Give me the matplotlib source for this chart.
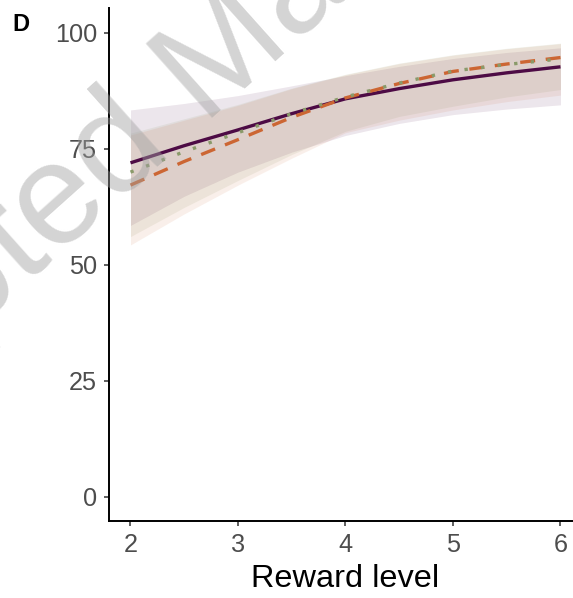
import numpy as np
import matplotlib.pyplot as plt

plt.rcParams['font.family'] = ['Liberation Sans', 'DejaVu Sans']

# reward levels and estimated percentages
reward = [2, 2.5, 3, 3.5, 4, 4.5, 5, 5.5, 6]

purple_fit = [72.0, 75.7, 79.1, 82.6, 85.8, 88.0, 89.9, 91.4, 92.7]
purple_lo = [58.5, 64.8, 70.0, 74.3, 77.9, 80.5, 82.4, 83.6, 84.5]
purple_hi = [83.4, 84.8, 86.5, 88.6, 90.8, 92.8, 94.5, 95.8, 96.8]

orange_fit = [67.2, 72.3, 77.0, 81.8, 86.0, 89.1, 91.7, 93.3, 94.7]
orange_lo = [54.3, 61.0, 67.2, 73.0, 78.5, 81.2, 83.4, 85.2, 86.6]
orange_hi = [78.0, 81.2, 84.4, 88.0, 91.0, 93.4, 95.2, 96.6, 97.7]

green_fit = [70.0, 74.4, 78.5, 82.6, 86.2, 89.2, 91.8, 93.2, 94.4]
green_lo = [56.1, 62.4, 68.2, 73.8, 78.8, 82.0, 84.2, 86.2, 87.8]
green_hi = [78.4, 81.5, 84.6, 88.1, 91.1, 93.5, 95.3, 96.7, 97.8]

yticks = [0, 25, 50, 75, 100]
xticks = [2, 3, 4, 5, 6]

c_purple = '#4D0B45'
c_orange = '#CC6633'
c_green = '#8A9A6A'

fig = plt.figure(figsize=(5.73, 5.98), dpi=100)
ax = fig.add_axes([0.1902, 0.1288, 0.8255, 0.858])

ax.fill_between(reward, purple_lo, purple_hi, color=c_purple, alpha=0.1, lw=0)
ax.fill_between(reward, green_lo, green_hi, color=c_green, alpha=0.12, lw=0)
ax.fill_between(reward, orange_lo, orange_hi, color=c_orange, alpha=0.1, lw=0)

ax.plot(reward, purple_fit, color=c_purple, lw=2.4, solid_capstyle='butt')
ax.plot(reward, orange_fit, color=c_orange, lw=2.4, dashes=(4.5, 3.2))
ax.plot(reward, green_fit, color=c_green, lw=2.4, dashes=(1, 4))

ax.set_xlim(1.8, 6.2)
ax.set_ylim(-5.2, 105.4)
ax.set_xticks(xticks)
ax.set_yticks(yticks)
ax.set_xticklabels([str(v) for v in xticks])
ax.set_yticklabels([str(v) for v in yticks])

for s in ['top', 'right']:
    ax.spines[s].set_visible(False)
for s in ['left', 'bottom']:
    ax.spines[s].set_linewidth(1.4)
    ax.spines[s].set_color('black')

ax.tick_params(length=3.5, width=1.1, color='#333333', labelcolor='#4D4D4D',
               labelsize=18.2)
ax.tick_params(axis='y', pad=5)
ax.tick_params(axis='x', pad=5)
ax.set_xlabel('Reward level', fontsize=23.4, color='black', labelpad=5)

fig.text(0.022, 0.978, 'D', fontsize=17, fontweight='bold', ha='left', va='top')

# watermark
fig.text(203 / 573, 1 - 76 / 598, 'Accepted Manuscript', fontsize=104,
         color='#A0A0A0', alpha=0.45, rotation=41.8, rotation_mode='anchor',
         ha='center', va='center', zorder=10)

fig.savefig('out.png', dpi=100)
